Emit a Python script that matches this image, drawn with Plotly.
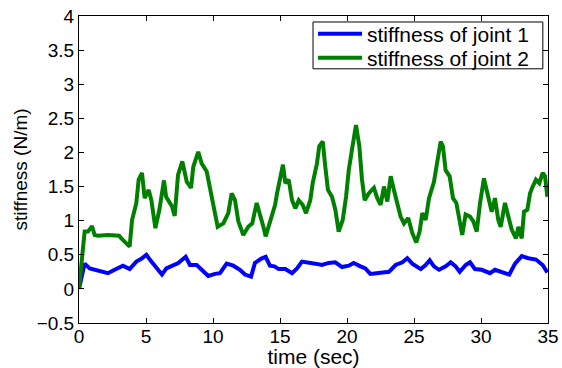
import plotly.graph_objects as go

# time (sec) and stiffness values
t_joint1 = [0.0, 0.42, 0.8, 1.42, 2.16, 2.66, 3.28, 3.78, 4.28, 4.65, 5.03, 5.4, 5.9, 6.19, 6.52, 7.01,
            7.41, 7.96, 8.28, 8.78, 9.15, 9.65, 10.15, 10.52, 11.02, 11.51, 12.01, 12.39, 12.84, 13.13,
            13.58, 13.93, 14.25, 14.58, 14.9, 15.4, 15.9, 16.27, 16.64, 17.14, 17.63, 18.13, 18.63, 19.13,
            19.63, 20.13, 20.5, 21.0, 21.37, 21.74, 22.14, 22.64, 23.13, 23.63, 24.13, 24.5, 24.87, 25.5,
            25.87, 26.17, 26.49, 26.87, 27.36, 27.74, 28.11, 28.41, 28.86, 29.18, 29.55, 30.05, 30.67,
            31.04, 31.54, 32.11, 32.54, 33.04, 33.53, 34.1, 34.6, 34.95]
k_joint1 = [0.0, 0.37, 0.30, 0.27, 0.23, 0.28, 0.34, 0.29, 0.40, 0.44, 0.50, 0.40, 0.28, 0.21, 0.30, 0.35,
            0.38, 0.47, 0.35, 0.35, 0.28, 0.19, 0.22, 0.23, 0.37, 0.34, 0.28, 0.21, 0.18, 0.38,
            0.44, 0.47, 0.34, 0.33, 0.29, 0.29, 0.23, 0.30, 0.40, 0.39, 0.37, 0.35, 0.38, 0.39,
            0.32, 0.34, 0.38, 0.33, 0.30, 0.22, 0.23, 0.25, 0.25, 0.35, 0.39, 0.45, 0.37, 0.29,
            0.35, 0.42, 0.33, 0.28, 0.33, 0.39, 0.33, 0.25, 0.35, 0.39, 0.29, 0.28, 0.23,
            0.28, 0.24, 0.21, 0.37, 0.48, 0.45, 0.43, 0.35, 0.24]

t_joint2 = [0.0, 0.42, 0.67, 0.97, 1.17, 1.42, 2.16, 3.0, 3.16, 3.78, 3.96, 4.28, 4.45, 4.7, 4.9, 5.2,
            5.4, 5.7, 6.0, 6.34, 6.5, 6.94, 7.14, 7.39, 7.71, 8.04, 8.36, 8.53, 8.9, 9.15, 9.53, 9.85,
            10.15, 10.35, 10.77, 11.14, 11.39, 11.64, 11.89, 12.26, 12.63, 12.93, 13.26, 13.58, 13.76,
            13.93, 14.25, 14.63, 14.78, 15.02, 15.22, 15.4, 15.65, 15.9, 16.14, 16.4, 16.7, 16.94, 17.26,
            17.44, 17.76, 17.93, 18.19, 18.38, 18.58, 18.88, 19.13, 19.38, 19.68, 19.93, 20.13, 20.37,
            20.67, 20.92, 21.12, 21.32, 21.62, 22.01, 22.26, 22.51, 22.76, 23.01, 23.26, 23.5, 23.75,
            24.0, 24.25, 24.57, 24.87, 25.17, 25.42, 25.62, 25.87, 26.12, 26.49, 26.74, 26.99, 27.16,
            27.36, 27.66, 27.91, 28.16, 28.36, 28.6, 28.85, 29.18, 29.43, 29.68, 29.93, 30.22, 30.42,
            30.62, 30.8, 31.04, 31.29, 31.47, 31.79, 32.04, 32.29, 32.61, 32.79, 33.04, 33.21, 33.46,
            33.66, 33.86, 34.1, 34.35, 34.6, 34.78, 34.95]
k_joint2 = [0.0, 0.84, 0.84, 0.92, 0.79, 0.78, 0.79, 0.78, 0.74, 0.62, 1.01, 1.26, 1.60, 1.70, 1.33, 1.45,
            1.30, 0.89, 1.16, 1.59, 1.35, 1.21, 1.07, 1.67, 1.87, 1.57, 1.48, 1.79, 2.01, 1.84, 1.72, 1.40,
            1.16, 0.91, 0.96, 1.11, 1.40, 1.30, 0.99, 0.79, 0.91, 0.96, 1.26, 1.06, 0.91,
            0.77, 0.96, 1.23, 1.40, 1.65, 1.82, 1.55, 1.60, 1.30, 1.18, 1.30, 1.23, 1.11, 1.30,
            1.55, 1.84, 2.09, 2.16, 1.79, 1.45, 1.35, 1.16, 0.84, 1.01, 1.35, 1.74, 2.04,
            2.40, 2.09, 1.60, 1.30, 1.40, 1.48, 1.33, 1.23, 1.50, 1.28, 1.65, 1.45, 1.28,
            1.06, 0.96, 1.04, 0.82, 0.68, 0.84, 1.11, 1.01, 1.33, 1.57, 1.89, 2.16, 2.09,
            1.74, 1.65, 1.33, 1.26, 1.06, 0.79, 1.09, 1.06, 0.99, 0.84, 1.26, 1.62, 1.45,
            1.30, 1.13, 1.33, 1.01, 0.91, 1.26, 1.06, 0.87, 0.74, 0.91, 0.74, 1.13, 1.16,
            1.40, 1.50, 1.60, 1.55, 1.70, 1.65, 1.35]

x_ticks = [0, 5, 10, 15, 20, 25, 30, 35]
y_ticks = [-0.5, 0, 0.5, 1, 1.5, 2, 2.5, 3, 3.5, 4]
y_tick_text = ["\u22120.5", "0", "0.5", "1", "1.5", "2", "2.5", "3", "3.5", "4"]

FONT = "Liberation Sans, Arial, sans-serif"

fig = go.Figure()
fig.add_trace(go.Scatter(x=t_joint1, y=k_joint1, mode="lines", name="stiffness of joint 1",
                         line=dict(color="#0000ff", width=4), legend="legend"))
fig.add_trace(go.Scatter(x=t_joint2, y=k_joint2, mode="lines", name="stiffness of joint 2",
                         line=dict(color="#008000", width=4), legend="legend2"))

axis_common = dict(showline=True, linecolor="black", linewidth=1, mirror="ticks",
                   ticks="inside", ticklen=5, tickcolor="black", showgrid=False, zeroline=False,
                   automargin=True,
                   tickfont=dict(family=FONT, size=19, color="black"))

legend_common = dict(xanchor="left", yanchor="middle", borderwidth=0,
                     bgcolor="rgba(0,0,0,0)", font=dict(family=FONT, size=21),
                     itemwidth=44)

fig.update_layout(
    width=562, height=368,
    margin=dict(l=79, r=14, t=16, b=45, autoexpand=False),
    paper_bgcolor="white", plot_bgcolor="white",
    font=dict(family=FONT, size=20, color="black"),
    xaxis=dict(range=[0, 35], tickvals=x_ticks, ticktext=[str(v) for v in x_ticks],
               title=dict(text="time (sec)", font=dict(family=FONT, size=21), standoff=1),
               ticklabelstandoff=-4,
               **axis_common),
    yaxis=dict(range=[-0.5, 4], tickvals=y_ticks, ticktext=y_tick_text,
               title=dict(text="stiffness (N/m)", font=dict(family=FONT, size=19), standoff=4),
               **axis_common),
    legend=dict(x=0.499, y=0.9414, **legend_common),
    legend2=dict(x=0.499, y=0.8632, **legend_common),
    shapes=[dict(type="rect", xref="paper", yref="paper", x0=0.499, x1=0.989, y0=0.828, y1=0.9805,
                 line=dict(color="black", width=1), fillcolor="white", layer="above")],
    showlegend=True,
)

fig.write_html("out.html")
